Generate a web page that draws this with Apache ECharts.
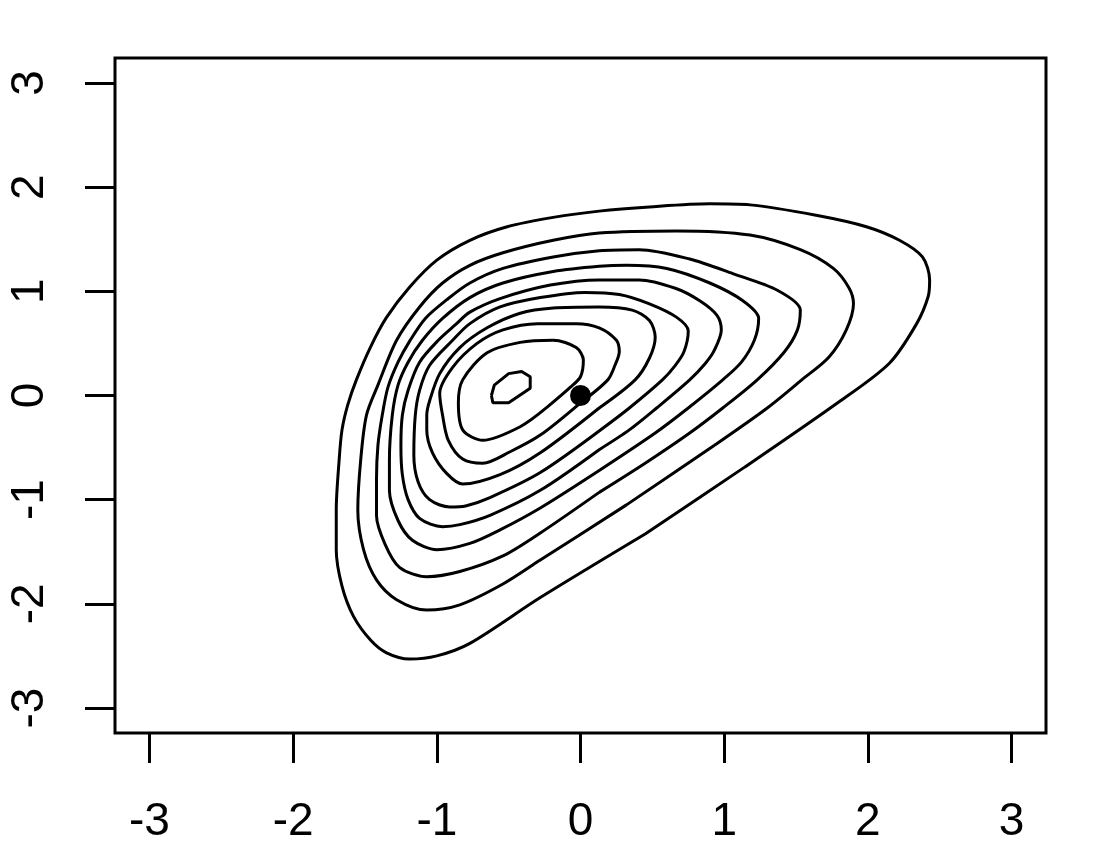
<!DOCTYPE html>
<html>
<head>
<meta charset="utf-8">
<script src="https://cdn.jsdelivr.net/npm/echarts@6/dist/echarts.min.js"></script>
<style>
  html, body { margin: 0; padding: 0; background: #fff; }
  #chart { width: 1104px; height: 849px; }
</style>
</head>
<body>
<div id="chart"></div>
<script>
// tick labels on both axes
const tickValues = [-3, -2, -1, 0, 1, 2, 3];

// contour lines, outermost first, [x, y]
// each one starts on its lower right edge, where the line is nearly straight
const contour1 = [[0.45,-1.33],[-0.28,-1.94],[-0.77,-2.38],[-1.00,-2.50],[-1.19,-2.53],[-1.35,-2.47],[-1.46,-2.35],[-1.58,-2.12],[-1.66,-1.83],[-1.70,-1.48],[-1.70,-1.10],[-1.68,-0.62],[-1.66,-0.33],[-1.62,-0.09],[-1.56,0.15],[-1.46,0.47],[-1.35,0.75],[-1.19,1.04],[-1.00,1.30],[-0.77,1.49],[-0.51,1.62],[-0.19,1.71],[0.13,1.77],[0.48,1.81],[0.90,1.84],[1.18,1.83],[1.64,1.73],[1.99,1.62],[2.22,1.49],[2.38,1.33],[2.43,1.11],[2.42,0.95],[2.34,0.69],[2.15,0.31],[1.80,-0.06],[1.14,-0.69]];
const contour2 = [[0.32,-1.05],[-0.28,-1.58],[-0.54,-1.81],[-0.84,-2.01],[-1.07,-2.06],[-1.28,-1.96],[-1.42,-1.77],[-1.51,-1.48],[-1.55,-1.10],[-1.53,-0.62],[-1.49,-0.19],[-1.41,0.10],[-1.28,0.53],[-1.12,0.85],[-0.96,1.08],[-0.77,1.25],[-0.54,1.37],[-0.19,1.49],[0.13,1.56],[0.67,1.58],[1.18,1.54],[1.53,1.40],[1.76,1.22],[1.87,1.03],[1.90,0.88],[1.85,0.63],[1.73,0.37],[1.54,0.15],[1.30,-0.12],[0.93,-0.48]];
const contour3 = [[0.13,-0.93],[-0.28,-1.32],[-0.54,-1.54],[-0.84,-1.69],[-1.07,-1.74],[-1.26,-1.65],[-1.36,-1.43],[-1.42,-1.15],[-1.42,-0.81],[-1.41,-0.48],[-1.38,-0.19],[-1.34,0.08],[-1.27,0.32],[-1.19,0.52],[-1.08,0.74],[-0.93,0.92],[-0.77,1.08],[-0.54,1.22],[-0.19,1.33],[0.13,1.39],[0.41,1.40],[0.76,1.31],[1.06,1.17],[1.37,1.01],[1.53,0.82],[1.51,0.63],[1.42,0.42],[1.23,0.15],[0.99,-0.12],[0.76,-0.36],[0.45,-0.65]];
const contour4 = [[0.13,-0.72],[-0.28,-1.08],[-0.56,-1.29],[-0.77,-1.42],[-1.00,-1.48],[-1.17,-1.39],[-1.27,-1.20],[-1.33,-0.91],[-1.33,-0.62],[-1.31,-0.19],[-1.27,0.10],[-1.20,0.32],[-1.10,0.53],[-0.96,0.74],[-0.77,0.94],[-0.54,1.08],[-0.19,1.19],[0.13,1.24],[0.32,1.25],[0.60,1.22],[0.90,1.08],[1.13,0.91],[1.24,0.74],[1.21,0.53],[1.12,0.32],[0.99,0.15],[0.75,-0.12],[0.52,-0.36]];
const contour5 = [[0.13,-0.52],[-0.28,-0.91],[-0.63,-1.15],[-0.84,-1.24],[-0.96,-1.26],[-1.12,-1.18],[-1.20,-1.00],[-1.24,-0.76],[-1.25,-0.48],[-1.24,-0.19],[-1.20,0.05],[-1.12,0.32],[-0.99,0.53],[-0.87,0.68],[-0.77,0.80],[-0.56,0.93],[-0.21,1.06],[0.13,1.11],[0.41,1.11],[0.66,1.03],[0.83,0.91],[0.95,0.77],[0.98,0.63],[0.93,0.43],[0.87,0.31],[0.76,0.15],[0.53,-0.12],[0.34,-0.33]];
const contour6 = [[0.16,-0.31],[-0.28,-0.74],[-0.63,-0.98],[-0.80,-1.06],[-0.91,-1.07],[-1.05,-1.00],[-1.13,-0.83],[-1.16,-0.57],[-1.15,-0.19],[-1.12,0.05],[-1.05,0.29],[-0.89,0.53],[-0.77,0.69],[-0.56,0.85],[-0.28,0.94],[0.03,0.99],[0.27,0.97],[0.48,0.88],[0.67,0.75],[0.75,0.62],[0.72,0.42],[0.66,0.29],[0.57,0.15],[0.34,-0.12]];
const contour7 = [[0.13,-0.12],[-0.28,-0.55],[-0.56,-0.76],[-0.82,-0.85],[-0.93,-0.75],[-1.03,-0.55],[-1.07,-0.33],[-1.07,-0.19],[-1.05,-0.05],[-0.98,0.21],[-0.84,0.46],[-0.65,0.65],[-0.42,0.79],[-0.19,0.84],[0.13,0.85],[0.36,0.82],[0.48,0.72],[0.52,0.56],[0.48,0.36],[0.38,0.15]];
const contour8 = [[0.00,-0.07],[-0.28,-0.38],[-0.49,-0.54],[-0.68,-0.65],[-0.82,-0.61],[-0.92,-0.43],[-0.96,-0.19],[-0.98,0.02],[-0.89,0.27],[-0.72,0.50],[-0.54,0.63],[-0.30,0.69],[-0.03,0.69],[0.13,0.65],[0.25,0.53],[0.27,0.42],[0.24,0.29],[0.19,0.15]];
const contour9 = [[-0.23,-0.11],[-0.42,-0.30],[-0.68,-0.43],[-0.82,-0.33],[-0.85,-0.07],[-0.82,0.15],[-0.65,0.41],[-0.42,0.51],[-0.19,0.53],[-0.03,0.46],[0.02,0.34],[0.00,0.18],[-0.07,0.08]];
const contour10 = [[-0.62,0.00],[-0.61,-0.07],[-0.50,-0.07],[-0.35,0.07],[-0.35,0.18],[-0.41,0.23],[-0.50,0.21],[-0.60,0.10]];

// the single marked point
const markPoint = [[0, 0]];

const contours = [contour1, contour2, contour3, contour4, contour5,
                  contour6, contour7, contour8, contour9, contour10];

const chart = echarts.init(document.getElementById('chart'), null, { renderer: 'canvas' });

const lineSeries = contours.map((pts, i) => ({
  type: 'line',
  data: pts.concat([pts[0]]),
  smooth: i < 9 ? 0.3 : false,
  showSymbol: false,
  silent: true,
  lineStyle: { color: '#000', width: 3 },
}));

const axisCommon = {
  type: 'value',
  min: -3.24, max: 3.24,
  axisLine: { show: false, onZero: false },
  splitLine: { show: false },
  axisTick: { show: true, inside: false, length: 30, customValues: tickValues,
              lineStyle: { color: '#000', width: 3 } },
};

chart.setOption({
  animation: false,
  backgroundColor: '#fff',
  grid: {
    left: 115, right: 58, top: 58, bottom: 116,
    show: true, borderColor: '#000', borderWidth: 3,
  },
  xAxis: Object.assign({}, axisCommon, {
    position: 'bottom',
    axisLabel: { customValues: tickValues, margin: 66, color: '#000', fontSize: 46,
                 fontFamily: 'Liberation Sans, Arial, sans-serif' },
  }),
  yAxis: Object.assign({}, axisCommon, {
    position: 'left',
    axisLabel: { customValues: tickValues, margin: 62, rotate: 90, color: '#000', fontSize: 46,
                 fontFamily: 'Liberation Sans, Arial, sans-serif' },
  }),
  series: lineSeries.concat([{
    type: 'scatter',
    data: markPoint,
    symbol: 'circle',
    symbolSize: 21,
    silent: true,
    z: 5,
    itemStyle: { color: '#000', opacity: 1 },
  }]),
});
</script>
</body>
</html>
